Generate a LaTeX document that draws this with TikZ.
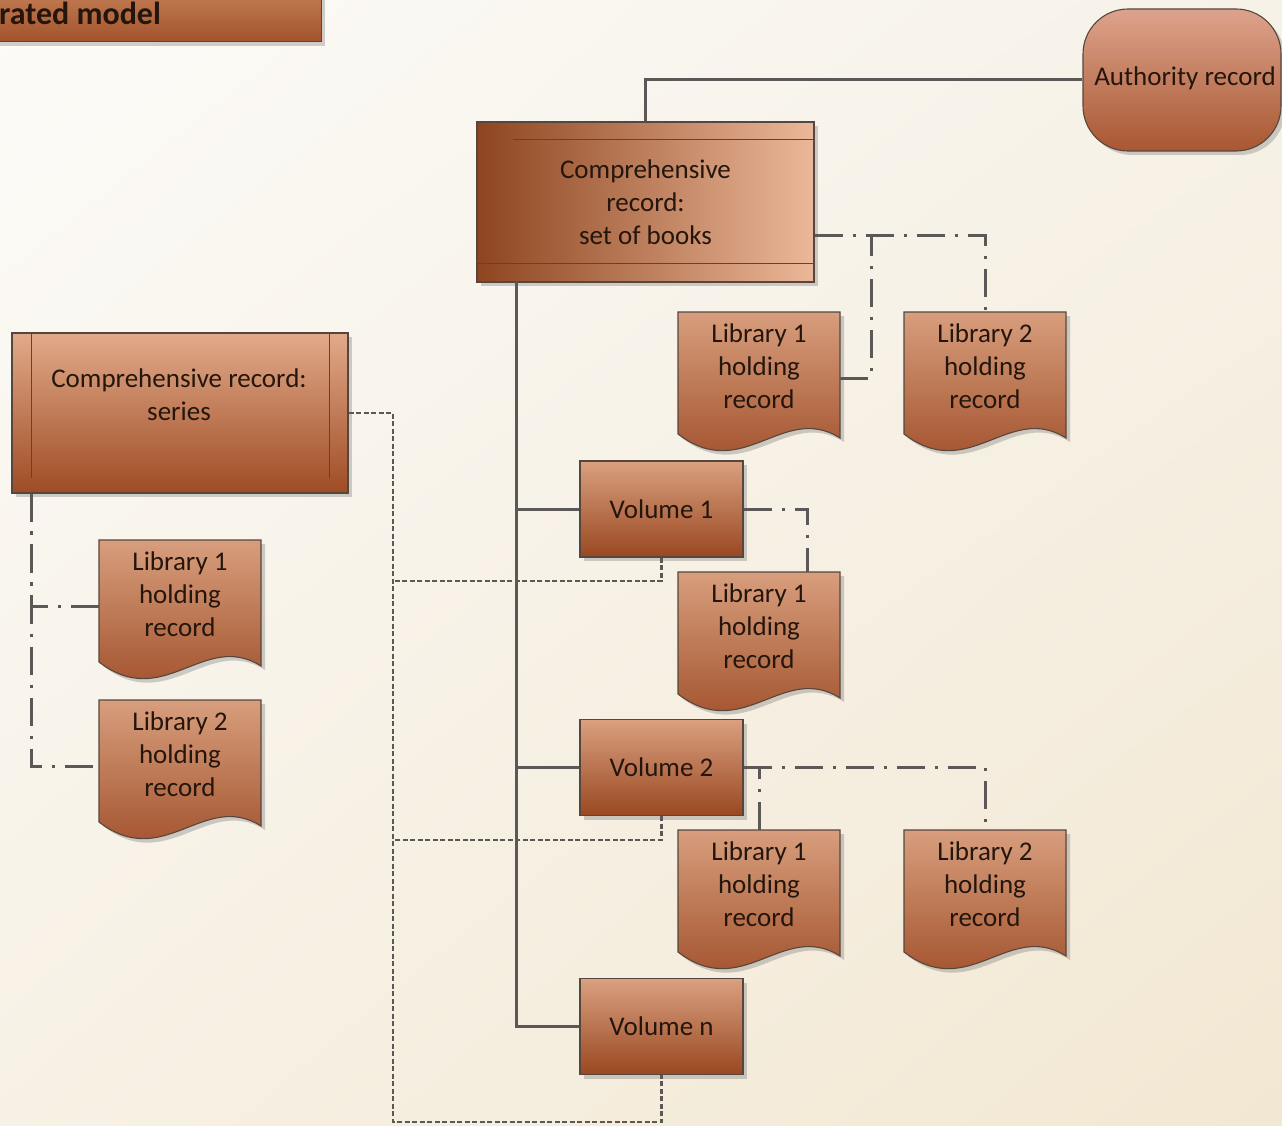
\documentclass[tikz,border=0pt]{standalone}
\usepackage{fontspec}
\setmainfont{Carlito}
\usetikzlibrary{shadows,calc,shadings}
\definecolor{bgUL}{HTML}{FCFBF8}
\definecolor{bgUR}{HTML}{F7F2E8}
\definecolor{bgLL}{HTML}{F7F1E5}
\definecolor{bgLR}{HTML}{F2E7D2}
\definecolor{boxgray}{HTML}{55473F}
\definecolor{linegray}{HTML}{5C5858}
\definecolor{txt}{HTML}{24160D}
\definecolor{volTop}{HTML}{DAA080}
\definecolor{volBot}{HTML}{994820}
\definecolor{docTop}{HTML}{D89E7E}
\definecolor{docBot}{HTML}{9A4720}
\definecolor{sobL}{HTML}{8E4520}
\definecolor{sobR}{HTML}{EBB899}
\definecolor{serTop}{HTML}{E2AA8A}
\definecolor{serBot}{HTML}{9E4C24}
\definecolor{autTop}{HTML}{DDA38C}
\definecolor{autBot}{HTML}{A85731}
\definecolor{titTop}{HTML}{C47F56}
\definecolor{titBot}{HTML}{A2532C}
\newcommand\lbl{\fontsize{27}{33}\selectfont}
\tikzset{
  boxline/.style={draw=boxgray, line width=1.1pt},
  shad/.style={drop shadow={shadow xshift=4pt, shadow yshift=-4pt, opacity=0.3, fill=black!60}},
  volbox/.style={rectangle, boxline, shad, top color=volTop, bottom color=volBot,
    minimum width=163pt, minimum height=96pt, inner sep=0pt, font=\lbl, text=txt},
  docstyle/.style={boxline, shad, top color=docTop, bottom color=docBot},
  docbox/.style={rectangle, minimum width=162pt, minimum height=132pt, inner sep=0pt, anchor=north},
  doctext/.style={align=center, font=\lbl, text=txt, inner sep=0pt},
  solidcon/.style={draw=linegray, line width=3pt},
  ddcon/.style={draw=linegray, line width=3pt, dash pattern=on 28pt off 10pt on 3pt off 10pt},
  dtcon/.style={draw=linegray, line width=2.8pt, dash pattern=on 5pt off 2.5pt},
}
\newcommand\docrec[4]{%
  \begin{scope}[shift={(#2,#3)}]
    \path[docstyle] (0,0) -- (162,0) -- (162,126) .. controls (105,90) and (65,172) .. (0,122) -- cycle;
    \node[docbox] (#1) at (81,0) {};
    \node[doctext] (#1t) at (81,54) {#4};
  \end{scope}}
\begin{document}
\begin{tikzpicture}[x=1pt,y=-1pt]
\useasboundingbox (0,0) rectangle (1282,1126);
\shade[upper left=bgUL, upper right=bgUR, lower left=bgLL, lower right=bgLR] (0,0) rectangle (1282,1126);

% title
\node[rectangle, boxline, shad, top color=titTop, bottom color=titBot, anchor=north east,
  minimum width=340pt, minimum height=53pt, inner sep=0pt] (title) at (322,-12) {};
\node[anchor=base west, inner sep=0pt, text=txt, font=\bfseries\fontsize{32}{38}\selectfont] (titletext) at (-1,25) {rated model};

\coordinate (tr) at (516,282);
\coordinate (dbot) at (393,1122);
\coordinate (dv1) at (393,581);
\coordinate (dv2) at (393,840);
\coordinate (sobr) at (871,235);

% main boxes
\node[rectangle, boxline, shad, left color=sobL, right color=sobR, minimum width=337pt, minimum height=160pt,
  inner sep=0pt, align=center, font=\lbl, text=txt] (sob) at (645.5,202) {Comprehensive\\record:\\set of books};
\draw[boxgray, line width=1pt] (513,140) -- (814,140);
\draw[boxgray, line width=1pt] (477,263) -- (814,263);

\node[rectangle, boxline, shad, top color=autTop, bottom color=autBot, rounded corners=45pt,
  minimum width=198pt, minimum height=142pt, inner sep=0pt] (auth) at (1182,80) {};
\node[font=\lbl, text=txt, inner sep=0pt] (autht) at (1185,78) {Authority record};

\node[rectangle, boxline, shad, top color=serTop, bottom color=serBot, minimum width=336pt, minimum height=160pt,
  inner sep=0pt] (ser) at (180,413) {};
\draw[boxgray, line width=1pt] (31,333) -- (31,478);
\draw[boxgray, line width=1pt] (329,333) -- (329,478);
\node[align=center, font=\lbl, text=txt, inner sep=0pt] (sert) at (179,395) {Comprehensive record:\\series};

\node[volbox] (v1) at (661.5,509) {Volume 1};
\node[volbox] (v2) at (661.5,767.5) {Volume 2};
\node[volbox] (vn) at (661.5,1026.5) {Volume n};

% connectors
\draw[solidcon] (sob.north) |- (auth.west);
\draw[solidcon] (tr) |- (vn.west);
\draw[solidcon] (v1.west) -- (v1.west -| tr);
\draw[solidcon] (v2.west) -- (v2.west -| tr);

\docrec{l1a}{678}{312}{Library 1\\holding\\record}
\docrec{l2a}{904}{312}{Library 2\\holding\\record}
\docrec{l1b}{678}{572}{Library 1\\holding\\record}
\docrec{l1c}{678}{830}{Library 1\\holding\\record}
\docrec{l2c}{904}{830}{Library 2\\holding\\record}
\docrec{l1s}{99}{540}{Library 1\\holding\\record}
\docrec{l2s}{99}{700}{Library 2\\holding\\record}

\draw[ddcon] (sob.east |- sobr) -| (l2a.north);
\draw[ddcon] (l1a.east) -| (sobr);
\draw[ddcon] (v1.east) -| ($(l1b.north)+(48,0)$);
\draw[ddcon] (v2.east) -| (l2c.north);
\draw[ddcon] (l1c.north) -- (l1c.north |- v2.east);
\draw[ddcon] ($(ser.south west)+(20,0)$) |- (l2s.west);
\draw[ddcon] (l1s.west) -| ($(ser.south west)+(20,0)$);

\draw[dtcon] (ser.east) -| (dbot) -| (vn.south);
\draw[dtcon] (v1.south) |- (dv1);
\draw[dtcon] (v2.south) |- (dv2);
\end{tikzpicture}
\end{document}
